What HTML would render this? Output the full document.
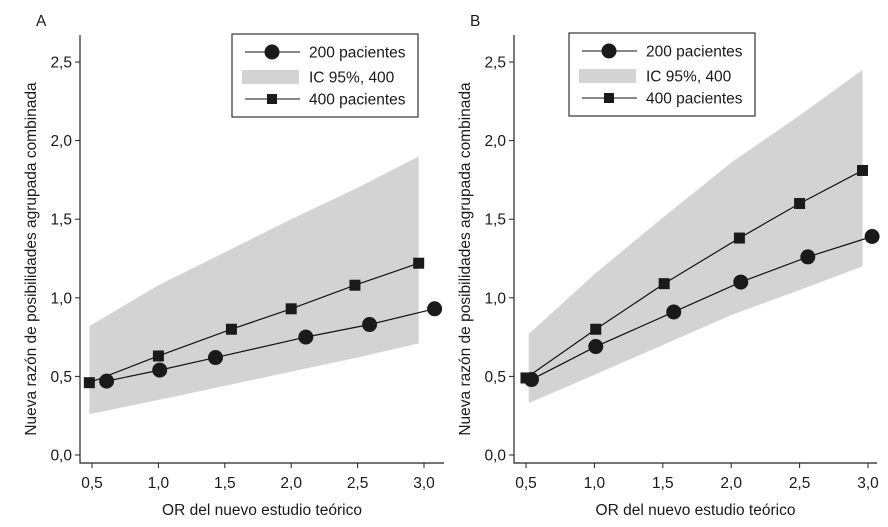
<!DOCTYPE html>
<html><head><meta charset="utf-8"><style>
html,body{margin:0;padding:0;background:#fff}
svg text{font-family:"Liberation Sans",sans-serif;fill:#1a1a1a}
</style></head><body>
<svg id="chart" width="888" height="522" xmlns="http://www.w3.org/2000/svg"></svg>
<script>
const yTicks=[0,0.5,1.0,1.5,2.0,2.5];
const yTickLabels=["0,0","0,5","1,0","1,5","2,0","2,5"];
const xTicks=[0.5,1.0,1.5,2.0,2.5,3.0];
const xTickLabels=["0,5","1,0","1,5","2,0","2,5","3,0"];
const legendLabels=["200 pacientes","IC 95%, 400","400 pacientes"];
// Panel A
const aSqX=[0.48,1.0,1.55,2.0,2.48,2.96];
const aSqY=[0.46,0.63,0.80,0.93,1.08,1.22];
const aCiX=[0.61,1.01,1.43,2.11,2.59,3.08];
const aCiY=[0.47,0.54,0.62,0.75,0.83,0.93];
const aBandX=[0.48,1.0,1.5,2.0,2.5,2.96];
const aBandHi=[0.82,1.08,1.29,1.50,1.70,1.90];
const aBandLo=[0.26,0.35,0.44,0.53,0.62,0.71];
// Panel B
const bSqX=[0.5,1.01,1.51,2.06,2.5,2.96];
const bSqY=[0.49,0.80,1.09,1.38,1.60,1.81];
const bCiX=[0.54,1.01,1.58,2.07,2.56,3.03];
const bCiY=[0.48,0.69,0.91,1.10,1.26,1.39];
const bBandX=[0.52,1.0,1.5,2.0,2.5,2.96];
const bBandHi=[0.77,1.15,1.51,1.86,2.16,2.45];
const bBandLo=[0.33,0.51,0.70,0.89,1.05,1.20];

const NS="http://www.w3.org/2000/svg";
const svg=document.getElementById('chart');
const FS=15.5;
function mk(tag,attrs,parent){const e=document.createElementNS(NS,tag);for(const k in attrs)e.setAttribute(k,attrs[k]);(parent||svg).appendChild(e);return e;}

function panel(cfg){
  const g=mk('g',{});
  
  
  const X=v=>cfg.x05+(v-0.5)*(cfg.x30-cfg.x05)/2.5;
  const Y=v=>455-v*157.2;
  let pts=cfg.bx.map((x,i)=>X(x)+','+Y(cfg.bh[i]));
  pts=pts.concat(cfg.bx.slice().reverse().map((x,i)=>X(x)+','+Y(cfg.bl[cfg.bl.length-1-i])));
  const band=mk('polygon',{points:pts.join(' '),fill:'#d3d3d4'},g);
  
  
  const ax=mk('path',{d:`M${cfg.ax},35 V463 H${cfg.axEnd}`,stroke:'#222','stroke-width':1.2,fill:'none'},g);
  
  
  yTicks.forEach((v,i)=>{
    mk('line',{x1:cfg.ax-5,x2:cfg.ax,y1:Y(v),y2:Y(v),stroke:'#222'},g);
    const t=mk('text',{x:cfg.ax-8,y:Y(v)+5.5,'text-anchor':'end','font-size':FS},g);
    t.textContent=yTickLabels[i];
    
    
  });
  xTicks.forEach((v,i)=>{
    mk('line',{x1:X(v),x2:X(v),y1:463,y2:468,stroke:'#222'},g);
    const t=mk('text',{x:X(v),y:488,'text-anchor':'middle','font-size':FS},g);
    t.textContent=xTickLabels[i];
    
    
  });
  const xt=mk('text',{x:(cfg.ax+cfg.axEnd)/2,y:515,'text-anchor':'middle','font-size':FS},g);
  xt.textContent='OR del nuevo estudio teórico';
  
  
  const yt=mk('text',{x:0,y:0,'text-anchor':'middle','font-size':FS,transform:`translate(${cfg.ax-44},259) rotate(-90)`},g);
  yt.textContent='Nueva razón de posibilidades agrupada combinada';
  
  
  const pl=mk('text',{x:cfg.ax-44,y:26,'font-size':FS},g);
  pl.textContent=cfg.letter;
  
  
  const l1=mk('polyline',{points:cfg.sx.map((x,i)=>X(x)+','+Y(cfg.sy[i])).join(' '),stroke:'#111','stroke-width':1.2,fill:'none'},g);
  
  
  const l2=mk('polyline',{points:cfg.cx.map((x,i)=>X(x)+','+Y(cfg.cy[i])).join(' '),stroke:'#111','stroke-width':1.2,fill:'none'},g);
  
  
  cfg.sx.forEach((x,i)=>{
    const r=mk('rect',{x:X(x)-5.5,y:Y(cfg.sy[i])-5.5,width:11,height:11,fill:'#1a1a1a'},g);
    
    
  });
  cfg.cx.forEach((x,i)=>{
    const c=mk('circle',{cx:X(x),cy:Y(cfg.cy[i]),r:7.5,fill:'#1a1a1a'},g);
    
    
  });
  const lg=mk('g',{},g);
  
  
  const lx=cfg.lx,ly=cfg.ly;
  mk('rect',{x:lx,y:ly,width:186,height:83,fill:'#fff',stroke:'#333','stroke-width':1.2},lg);
  mk('line',{x1:lx+13,x2:lx+68,y1:ly+18,y2:ly+18,stroke:'#111'},lg);
  mk('circle',{cx:lx+40,cy:ly+18,r:7.5,fill:'#1a1a1a'},lg);
  mk('rect',{x:lx+10,y:ly+36,width:57,height:14,fill:'#d3d3d4'},lg);
  mk('line',{x1:lx+13,x2:lx+68,y1:ly+65,y2:ly+65,stroke:'#111'},lg);
  mk('rect',{x:lx+35,y:ly+60,width:10,height:10,fill:'#1a1a1a'},lg);
  [18,43,65].forEach((dy,i)=>{
    const t=mk('text',{x:lx+77,y:ly+dy+5.5,'font-size':FS},lg);
    t.textContent=legendLabels[i];
    
    
  });
}
panel({name:'panel-a',letter:'A',ax:80,axEnd:444,x05:92,x30:424,bx:aBandX,bh:aBandHi,bl:aBandLo,sx:aSqX,sy:aSqY,cx:aCiX,cy:aCiY,lx:232,ly:34});
panel({name:'panel-b',letter:'B',ax:514,axEnd:877,x05:526,x30:868,bx:bBandX,bh:bBandHi,bl:bBandLo,sx:bSqX,sy:bSqY,cx:bCiX,cy:bCiY,lx:569,ly:33});
</script>
</body></html>
